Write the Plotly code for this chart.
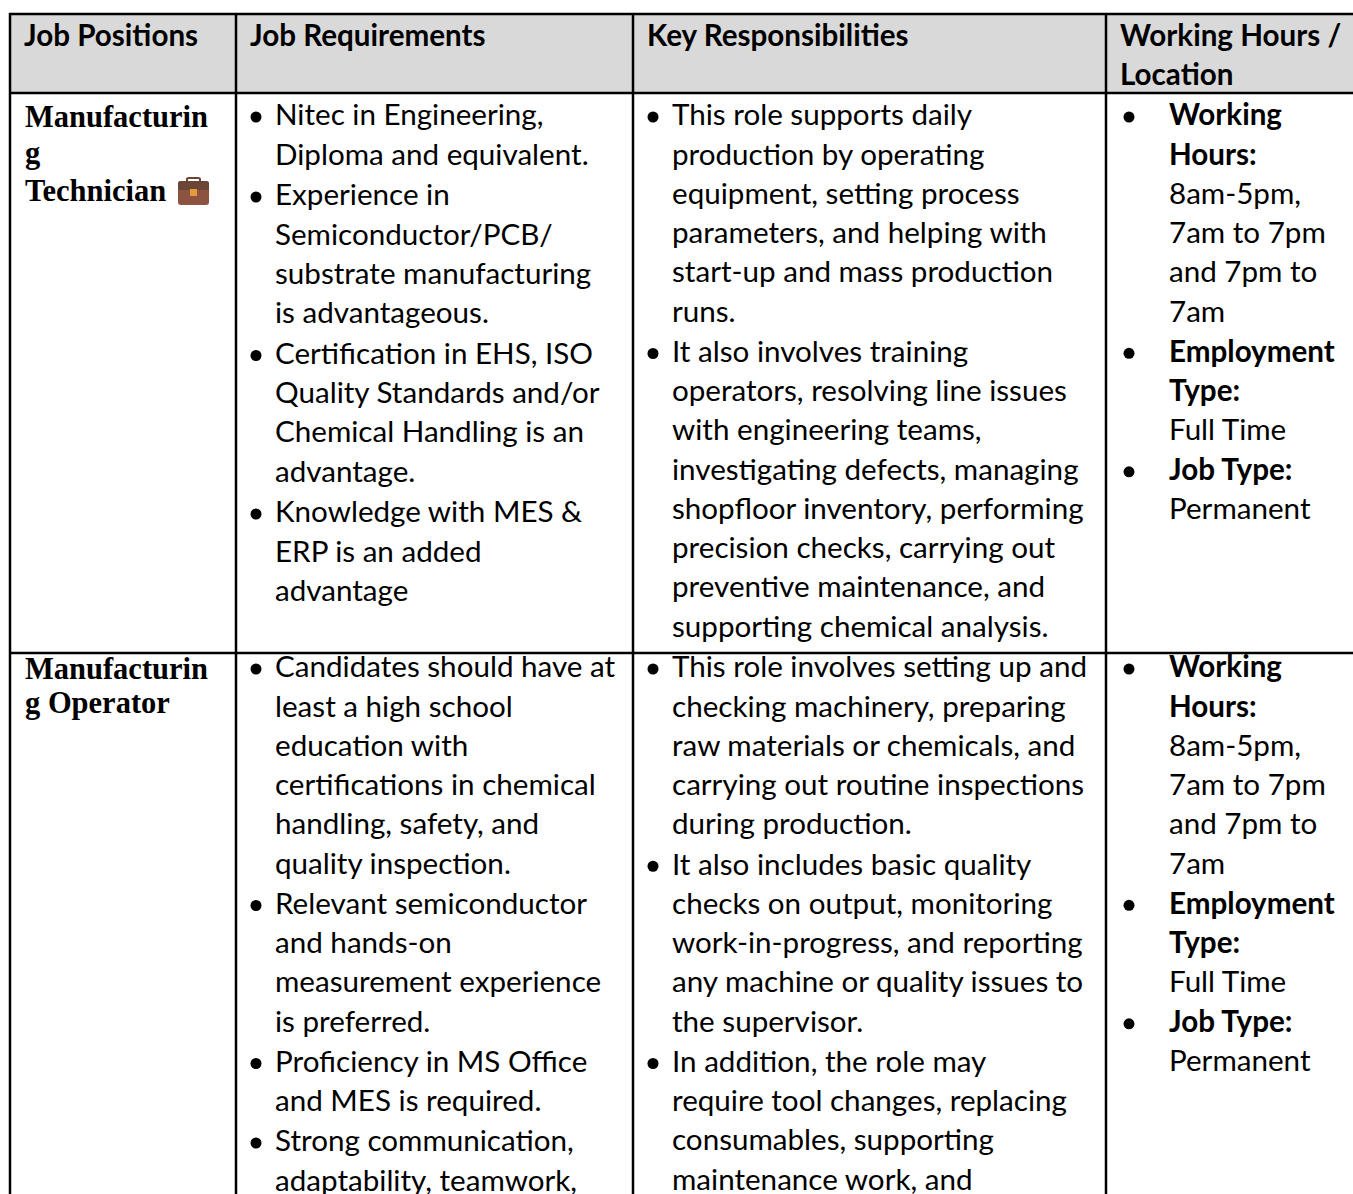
import plotly.graph_objects as go

headers = [["Job Positions"], ["Job Requirements"], ["Key Responsibilities"], ["Working Hours /", "Location"]]

# each cell: list of paragraphs, each paragraph a list of lines
r1_c1 = ["Manufacturin", "g", "Technician"]
r2_c1 = ["Manufacturin", "g Operator"]
r1_c2 = [["Nitec in Engineering,", "Diploma and equivalent."],
         ["Experience in", "Semiconductor/PCB/", "substrate manufacturing", "is advantageous."],
         ["Certification in EHS, ISO", "Quality Standards and/or", "Chemical Handling is an", "advantage."],
         ["Knowledge with MES &", "ERP is an added", "advantage"]]
r1_c3 = [["This role supports daily", "production by operating", "equipment, setting process", "parameters, and helping with", "start-up and mass production", "runs."],
         ["It also involves training", "operators, resolving line issues", "with engineering teams,", "investigating defects, managing", "shopfloor inventory, performing", "precision checks, carrying out", "preventive maintenance, and", "supporting chemical analysis."]]
r1_c4 = [["<b>Working</b>", "<b>Hours:</b>", "8am-5pm,", "7am to 7pm", "and 7pm to", "7am"],
         ["<b>Employment</b>", "<b>Type:</b>", "Full Time"],
         ["<b>Job Type:</b>", "Permanent"]]
r2_c2 = [["Candidates should have at", "least a high school", "education with", "certifications in chemical", "handling, safety, and", "quality inspection."],
         ["Relevant semiconductor", "and hands-on", "measurement experience", "is preferred."],
         ["Proficiency in MS Office", "and MES is required."],
         ["Strong communication,", "adaptability, teamwork,"]]
r2_c3 = [["This role involves setting up and", "checking machinery, preparing", "raw materials or chemicals, and", "carrying out routine inspections", "during production."],
         ["It also includes basic quality", "checks on output, monitoring", "work-in-progress, and reporting", "any machine or quality issues to", "the supervisor."],
         ["In addition, the role may", "require tool changes, replacing", "consumables, supporting", "maintenance work, and"]]
r2_c4 = r1_c4

col_edges = [10, 236, 633, 1106]
row_edges = [14, 93, 653]
W, H = 1353, 1194
PITCH = 39.25
SANS = "Lato"
SERIF = "Liberation Serif"
SIZE = 29.6
BUL = 11
R1, R2 = 116, 668
DY = 2

fig = go.Figure()

def text(xs, ys, lines, family=SANS, size=SIZE):
    fig.add_trace(go.Scatter(x=xs, y=ys, text=lines, mode="text", textposition="middle right",
                             textfont=dict(family=family, size=size, color="#000000"),
                             hoverinfo="skip", showlegend=False, cliponaxis=False))

def cell(paras, x_text, x_bullet, top, bump):
    y = top
    xs, ys, ls, bx, by = [], [], [], [], []
    for para in paras:
        bx.append(x_bullet); by.append(y + 1)
        for ln in para:
            xs.append(x_text); ys.append(y + DY); ls.append(ln)
            y += PITCH
        y += bump
    text(xs, ys, ls)
    fig.add_trace(go.Scatter(x=bx, y=by, mode="markers", marker=dict(symbol="circle", size=BUL, color="#000000", line_width=0),
                             hoverinfo="skip", showlegend=False))

# header
for i, h in enumerate(headers):
    text([col_edges[i] + 14] * len(h), [38.5 + k * 39 for k in range(len(h))], ["<b>%s</b>" % s for s in h])

# first column
text([25] * 3, [119, 155, 193], ["<b>%s</b>" % s for s in r1_c1], SERIF, 30.5)
text([25] * 2, [671, 705], ["<b>%s</b>" % s for s in r2_c1], SERIF, 30.5)

cell(r1_c2, 275, 256, R1, 1.5)
cell(r1_c3, 672, 653, R1, 1.0)
cell(r1_c4, 1169, 1129, R1, 0.8)
cell(r2_c2, 275, 256, R2, 1.0)
cell(r2_c3, 672, 653, R2, 1.0)
cell(r2_c4, 1169, 1129, R2, 0.8)

shapes = [dict(type="rect", x0=10, x1=W, y0=row_edges[0], y1=row_edges[1], fillcolor="#D9D9D9", line_width=0, layer="below")]
line = dict(color="#000000", width=2.5)
for x in col_edges:
    shapes.append(dict(type="line", x0=x, x1=x, y0=row_edges[0] - 1, y1=H, line=line))
for y in row_edges:
    shapes.append(dict(type="line", x0=9, x1=W, y0=y, y1=y, line=line))

# briefcase glyph
shapes += [
    dict(type="path", path="M187 182 L187 179 Q187 178 189 178 L198 178 Q200 178 200 179 L200 182", line=dict(color="#6B4535", width=2)),
    dict(type="path", path="M181 181 L206 181 Q209 181 209 184 L209 202 Q209 205 206 205 L181 205 Q178 205 178 202 L178 184 Q178 181 181 181 Z", fillcolor="#8C5440", line_width=0),
    dict(type="path", path="M181 181 L206 181 Q209 181 209 184 L209 190 L178 190 L178 184 Q178 181 181 181 Z", fillcolor="#6B4535", line_width=0),
    dict(type="rect", x0=190, x1=197, y0=189, y1=196, fillcolor="#E39A3B", line_width=0),
]

fig.update_layout(
    width=W, height=H, margin=dict(l=0, r=0, t=0, b=0), paper_bgcolor="#FFFFFF", plot_bgcolor="#FFFFFF",
    xaxis=dict(range=[0, W], visible=False, fixedrange=True),
    yaxis=dict(range=[H, 0], visible=False, fixedrange=True),
    shapes=shapes, showlegend=False,
)
fig.write_html("out.html", config={"displayModeBar": False},
               post_script="document.body.style.margin='0';document.body.style.overflow='hidden';")
